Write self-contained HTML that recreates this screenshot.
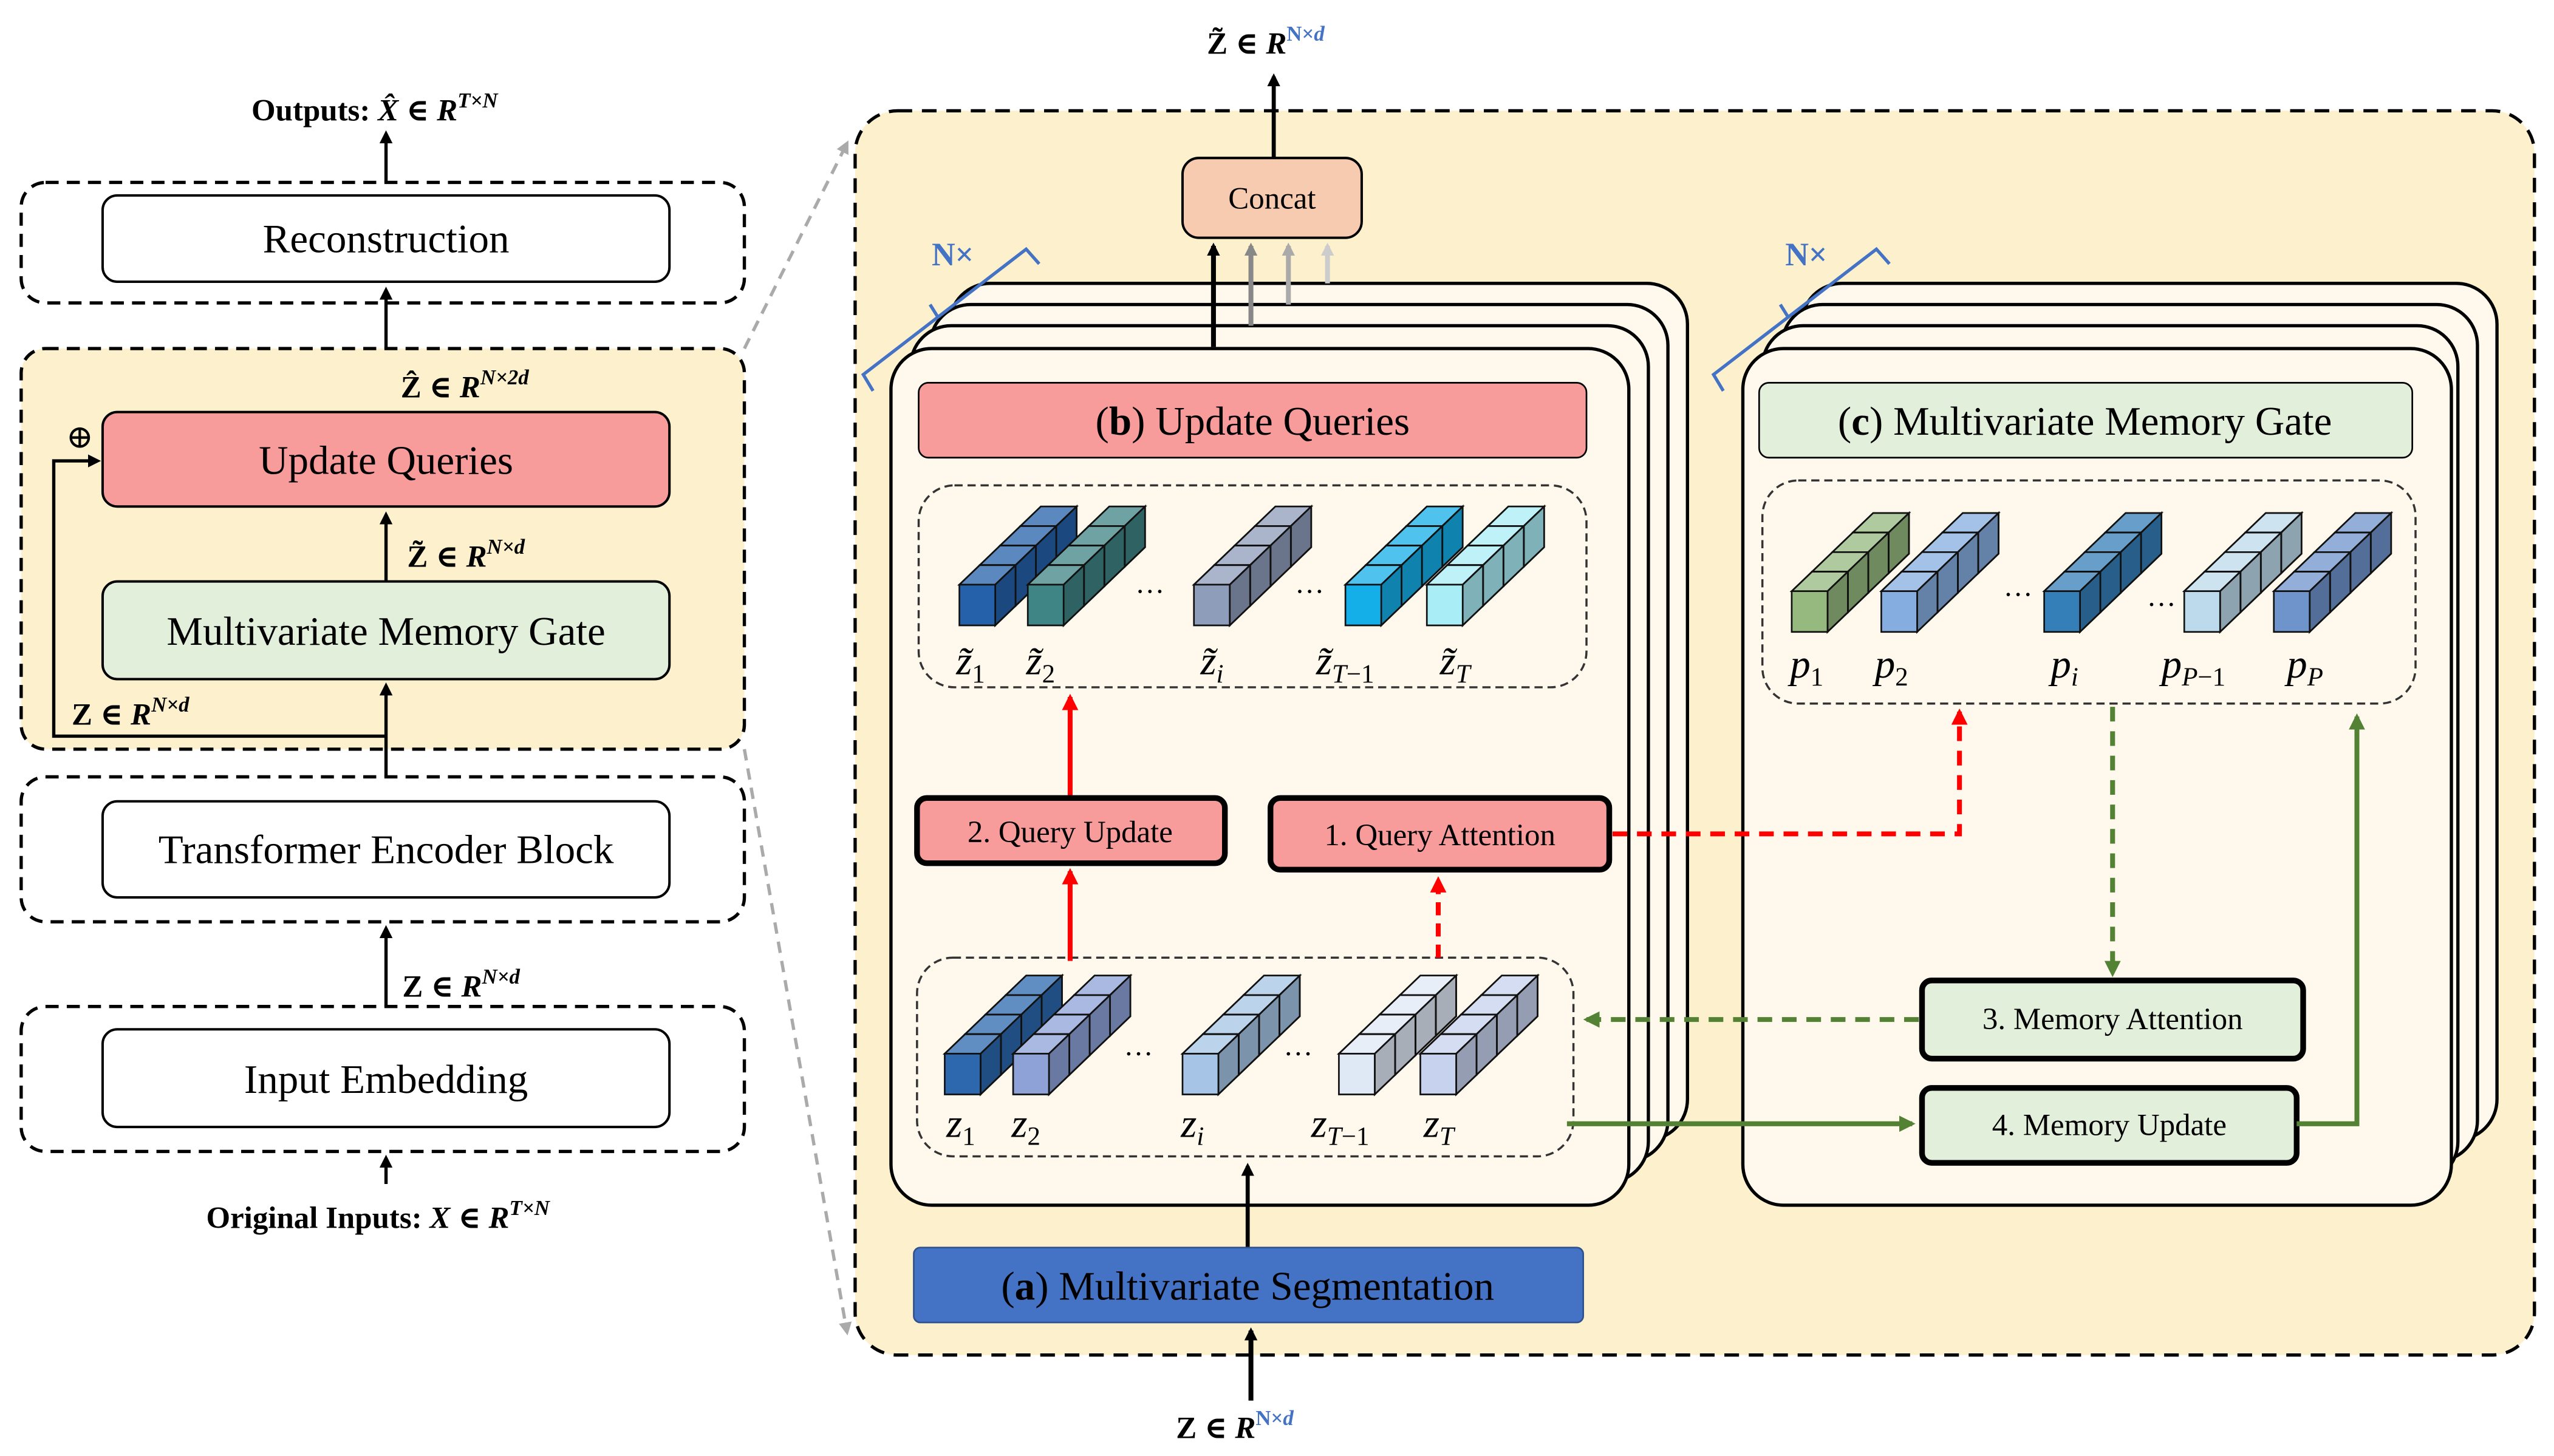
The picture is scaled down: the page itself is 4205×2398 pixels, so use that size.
<!DOCTYPE html>
<html><head><meta charset="utf-8"><style>
html,body{margin:0;padding:0;background:#fff;}
svg{display:block;}
text{font-family:"Liberation Serif","DejaVu Serif",serif;}
</style></head><body>
<svg id="s" xmlns="http://www.w3.org/2000/svg" width="4205" height="2398" viewBox="0 0 1568 894" preserveAspectRatio="none">
<defs>
<marker id="ak" markerWidth="8" markerHeight="8" refX="6" refY="4" orient="auto" markerUnits="userSpaceOnUse"><path d="M0,0 L8,4 L0,8 z" fill="#000"/></marker>
<marker id="ar" markerWidth="10" markerHeight="10" refX="8" refY="5" orient="auto" markerUnits="userSpaceOnUse"><path d="M0,0 L10,5 L0,10 z" fill="#f00"/></marker>
<marker id="ag" markerWidth="10" markerHeight="10" refX="8" refY="5" orient="auto" markerUnits="userSpaceOnUse"><path d="M0,0 L10,5 L0,10 z" fill="#548235"/></marker>
<marker id="ag1" markerWidth="8" markerHeight="8" refX="6" refY="4" orient="auto" markerUnits="userSpaceOnUse"><path d="M0,0 L8,4 L0,8 z" fill="#888"/></marker>
<marker id="ag2" markerWidth="8" markerHeight="8" refX="6" refY="4" orient="auto" markerUnits="userSpaceOnUse"><path d="M0,0 L8,4 L0,8 z" fill="#aaa"/></marker>
<marker id="ag3" markerWidth="8" markerHeight="8" refX="6" refY="4" orient="auto" markerUnits="userSpaceOnUse"><path d="M0,0 L8,4 L0,8 z" fill="#ccc"/></marker>
</defs>

<!-- LEFT COLUMN -->
<text x="230" y="74" font-size="19" font-weight="bold" text-anchor="middle">Outputs: <tspan font-style="italic">X̂</tspan> ∈ <tspan font-style="italic">R</tspan><tspan font-size="13" dy="-8" font-style="italic">T×N</tspan></text>
<line x1="237" y1="118" x2="237" y2="82" stroke="#000" stroke-width="2" marker-end="url(#ak)"/>
<rect x="13" y="112" width="444" height="74" rx="15" fill="#fff" stroke="#000" stroke-width="2" stroke-dasharray="8,5"/>
<rect x="63" y="120" width="348" height="53" rx="9" fill="#fff" stroke="#000" stroke-width="1.5"/>
<text x="237" y="155" font-size="25" text-anchor="middle">Reconstruction</text>
<line x1="237" y1="214" x2="237" y2="178" stroke="#000" stroke-width="2" marker-end="url(#ak)"/>

<rect x="13" y="214" width="444" height="246" rx="15" fill="#fdf0cc" stroke="#000" stroke-width="2" stroke-dasharray="8,5"/>
<text x="246" y="244" font-size="19" font-weight="bold">Ẑ ∈ <tspan font-style="italic">R</tspan><tspan font-size="13" dy="-8" font-style="italic">N×2d</tspan></text>
<rect x="63" y="253" width="348" height="58" rx="9" fill="#f79b9b" stroke="#000" stroke-width="1.5"/>
<text x="237" y="291" font-size="25" text-anchor="middle">Update Queries</text>
<text x="49" y="275" font-size="20" text-anchor="middle">⊕</text>
<line x1="237" y1="357" x2="237" y2="316" stroke="#000" stroke-width="2" marker-end="url(#ak)"/>
<text x="250" y="348" font-size="19" font-weight="bold">Z̃ ∈ <tspan font-style="italic">R</tspan><tspan font-size="13" dy="-8" font-style="italic">N×d</tspan></text>
<rect x="63" y="357" width="348" height="60" rx="9" fill="#e2efda" stroke="#000" stroke-width="1.5"/>
<text x="237" y="396" font-size="25" text-anchor="middle">Multivariate Memory Gate</text>
<line x1="237" y1="490" x2="237" y2="421" stroke="#000" stroke-width="2" marker-end="url(#ak)"/>
<polyline points="237,452 33,452 33,283 60,283" fill="none" stroke="#000" stroke-width="2" marker-end="url(#ak)"/>
<text x="44" y="445" font-size="19" font-weight="bold">Z ∈ <tspan font-style="italic">R</tspan><tspan font-size="13" dy="-8" font-style="italic">N×d</tspan></text>

<rect x="13" y="477" width="444" height="89" rx="15" fill="#fff" stroke="#000" stroke-width="2" stroke-dasharray="8,5"/>
<rect x="63" y="492" width="348" height="59" rx="9" fill="#fff" stroke="#000" stroke-width="1.5"/>
<text x="237" y="530" font-size="25" text-anchor="middle">Transformer Encoder Block</text>
<line x1="237" y1="632" x2="237" y2="570" stroke="#000" stroke-width="2" marker-end="url(#ak)"/>
<text x="247" y="612" font-size="19" font-weight="bold">Z ∈ <tspan font-style="italic">R</tspan><tspan font-size="13" dy="-8" font-style="italic">N×d</tspan></text>
<rect x="13" y="618" width="444" height="89" rx="15" fill="#fff" stroke="#000" stroke-width="2" stroke-dasharray="8,5"/>
<rect x="63" y="632" width="348" height="60" rx="9" fill="#fff" stroke="#000" stroke-width="1.5"/>
<text x="237" y="671" font-size="25" text-anchor="middle">Input Embedding</text>
<line x1="237" y1="727" x2="237" y2="711" stroke="#000" stroke-width="2" marker-end="url(#ak)"/>
<text x="232" y="754" font-size="19" font-weight="bold" text-anchor="middle">Original Inputs: <tspan font-style="italic">X</tspan> ∈ <tspan font-style="italic">R</tspan><tspan font-size="13" dy="-8" font-style="italic">T×N</tspan></text>

<line x1="457" y1="214" x2="520" y2="88" stroke="#aaa" stroke-width="2" stroke-dasharray="7,5" marker-end="url(#ag2)"/>
<line x1="457" y1="460" x2="520" y2="818" stroke="#aaa" stroke-width="2" stroke-dasharray="7,5" marker-end="url(#ag2)"/>

<!-- RIGHT BIG -->
<rect x="525" y="68" width="1031" height="764" rx="26" fill="#fdf0cc" stroke="#000" stroke-width="2" stroke-dasharray="9,6"/>
<line x1="782" y1="97" x2="782" y2="47" stroke="#000" stroke-width="2.5" marker-end="url(#ak)"/>
<text x="741" y="33" font-size="19" font-weight="bold">Z̃ ∈ <tspan font-style="italic">R</tspan><tspan font-size="13" dy="-8" fill="#4472c4">N×<tspan font-style="italic">d</tspan></tspan></text>

<!-- panels b -->
<rect x="583" y="174" width="453" height="526" rx="25" fill="#fff8ec" stroke="#000" stroke-width="2"/>
<rect x="571" y="187" width="453" height="526" rx="25" fill="#fff8ec" stroke="#000" stroke-width="2"/>
<rect x="559" y="200" width="453" height="526" rx="25" fill="#fff8ec" stroke="#000" stroke-width="2"/>
<rect x="547" y="214" width="453" height="526" rx="25" fill="#fff8ec" stroke="#000" stroke-width="2"/>
<!-- panels c -->
<rect x="1106" y="174" width="427" height="526" rx="25" fill="#fff8ec" stroke="#000" stroke-width="2"/>
<rect x="1094" y="187" width="427" height="526" rx="25" fill="#fff8ec" stroke="#000" stroke-width="2"/>
<rect x="1082" y="200" width="427" height="526" rx="25" fill="#fff8ec" stroke="#000" stroke-width="2"/>
<rect x="1070" y="214" width="435" height="526" rx="25" fill="#fff8ec" stroke="#000" stroke-width="2"/>

<!-- Concat -->
<rect x="726" y="97" width="110" height="49" rx="10" fill="#f7cbb0" stroke="#000" stroke-width="1.5"/>
<text x="781" y="128" font-size="19" text-anchor="middle">Concat</text>
<line x1="745" y1="213" x2="745" y2="151" stroke="#000" stroke-width="3" marker-end="url(#ak)"/>
<line x1="768" y1="200" x2="768" y2="151" stroke="#888" stroke-width="3" marker-end="url(#ag1)"/>
<line x1="791" y1="187" x2="791" y2="151" stroke="#aaa" stroke-width="3" marker-end="url(#ag2)"/>
<line x1="815" y1="174" x2="815" y2="151" stroke="#ccc" stroke-width="3" marker-end="url(#ag3)"/>

<!-- N× brackets -->
<g stroke="#4472c4" stroke-width="2" fill="none">
<polyline points="536,240 530,230 630,153 638,162"/>
<line x1="576" y1="195" x2="571" y2="187"/>
<polyline points="1058,240 1052,230 1152,153 1160,162"/>
<line x1="1098" y1="195" x2="1093" y2="187"/>
</g>
<text x="572" y="163" font-size="20" font-weight="bold" fill="#4472c4">N×</text>
<text x="1096" y="163" font-size="20" font-weight="bold" fill="#4472c4">N×</text>

<rect x="564" y="235" width="410" height="46" rx="6" fill="#f79b9b" stroke="#000" stroke-width="1"/>
<text x="769" y="267" font-size="25" text-anchor="middle">(<tspan font-weight="bold">b</tspan>) Update Queries</text>
<rect x="1080" y="235" width="401" height="46" rx="6" fill="#e2efda" stroke="#000" stroke-width="1"/>
<text x="1280" y="267" font-size="25" text-anchor="middle">(<tspan font-weight="bold">c</tspan>) Multivariate Memory Gate</text>

<rect x="564" y="298" width="410" height="124" rx="22" fill="none" stroke="#333" stroke-width="1.3" stroke-dasharray="5,3"/>
<rect x="563" y="588" width="403" height="122" rx="22" fill="none" stroke="#333" stroke-width="1.3" stroke-dasharray="5,3"/>
<rect x="1082" y="295" width="401" height="137" rx="22" fill="none" stroke="#333" stroke-width="1.3" stroke-dasharray="5,3"/>

<g id="cubes"></g>

<!-- labels cubes -->
<g font-size="25" font-style="italic">
<text x="587" y="414">z̃<tspan font-size="16" dy="5" font-style="normal">1</tspan></text>
<text x="630" y="414">z̃<tspan font-size="16" dy="5" font-style="normal">2</tspan></text>
<text x="737" y="414">z̃<tspan font-size="16" dy="5">i</tspan></text>
<text x="808" y="414">z̃<tspan font-size="16" dy="5">T</tspan><tspan font-size="16" font-style="normal">−1</tspan></text>
<text x="884" y="414">z̃<tspan font-size="16" dy="5">T</tspan></text>
<text x="581" y="698">z<tspan font-size="16" dy="5" font-style="normal">1</tspan></text>
<text x="621" y="698">z<tspan font-size="16" dy="5" font-style="normal">2</tspan></text>
<text x="725" y="698">z<tspan font-size="16" dy="5">i</tspan></text>
<text x="805" y="698">z<tspan font-size="16" dy="5">T</tspan><tspan font-size="16" font-style="normal">−1</tspan></text>
<text x="874" y="698">z<tspan font-size="16" dy="5">T</tspan></text>
<text x="1099" y="416">p<tspan font-size="16" dy="5" font-style="normal">1</tspan></text>
<text x="1151" y="416">p<tspan font-size="16" dy="5" font-style="normal">2</tspan></text>
<text x="1259" y="416">p<tspan font-size="16" dy="5">i</tspan></text>
<text x="1327" y="416">p<tspan font-size="16" dy="5">P</tspan><tspan font-size="16" font-style="normal">−1</tspan></text>
<text x="1404" y="416">p<tspan font-size="16" dy="5">P</tspan></text>
</g>
<g font-size="18">
<text x="697" y="364">…</text><text x="795" y="364">…</text>
<text x="690" y="648">…</text><text x="788" y="648">…</text>
<text x="1230" y="366">…</text><text x="1318" y="372">…</text>
</g>

<!-- b internals -->
<line x1="657" y1="490" x2="657" y2="428" stroke="#f00" stroke-width="3" marker-end="url(#ar)"/>
<line x1="657" y1="590" x2="657" y2="535" stroke="#f00" stroke-width="3" marker-end="url(#ar)"/>
<line x1="883" y1="588" x2="883" y2="540" stroke="#f00" stroke-width="3" stroke-dasharray="8,5" marker-end="url(#ar)"/>
<rect x="563" y="490" width="189" height="40" rx="6" fill="#f79b9b" stroke="#000" stroke-width="3.5"/>
<text x="657" y="517" font-size="19" text-anchor="middle">2. Query Update</text>
<rect x="780" y="490" width="208" height="44" rx="6" fill="#f79b9b" stroke="#000" stroke-width="3.5"/>
<text x="884" y="519" font-size="19" text-anchor="middle">1. Query Attention</text>
<polyline points="990,512 1203,512 1203,437" fill="none" stroke="#f00" stroke-width="3" stroke-dasharray="9,6" marker-end="url(#ar)"/>

<!-- c internals -->
<line x1="1297" y1="434" x2="1297" y2="598" stroke="#548235" stroke-width="3" stroke-dasharray="9,6" marker-end="url(#ag)"/>
<rect x="1180" y="602" width="234" height="48" rx="6" fill="#e2efda" stroke="#000" stroke-width="3.5"/>
<text x="1297" y="632" font-size="19" text-anchor="middle">3. Memory Attention</text>
<line x1="1178" y1="626" x2="974" y2="626" stroke="#548235" stroke-width="3" stroke-dasharray="9,6" marker-end="url(#ag)"/>
<rect x="1180" y="668" width="230" height="46" rx="6" fill="#e2efda" stroke="#000" stroke-width="3.5"/>
<text x="1295" y="697" font-size="19" text-anchor="middle">4. Memory Update</text>
<line x1="962" y1="690" x2="1174" y2="690" stroke="#548235" stroke-width="3" marker-end="url(#ag)"/>
<polyline points="1410,690 1447,690 1447,440" fill="none" stroke="#548235" stroke-width="3" marker-end="url(#ag)"/>

<!-- a -->
<line x1="766" y1="766" x2="766" y2="716" stroke="#000" stroke-width="2.5" marker-end="url(#ak)"/>
<rect x="561" y="766" width="411" height="46" rx="4" fill="#4472c4" stroke="#2f528f" stroke-width="1"/>
<text x="766" y="798" font-size="25" text-anchor="middle">(<tspan font-weight="bold">a</tspan>) Multivariate Segmentation</text>
<line x1="768" y1="860" x2="768" y2="817" stroke="#000" stroke-width="3" marker-end="url(#ak)"/>
<text x="722" y="883" font-size="19" font-weight="bold">Z ∈ <tspan font-style="italic">R</tspan><tspan font-size="13" dy="-8" fill="#4472c4">N×<tspan font-style="italic">d</tspan></tspan></text>
</svg>
<script>
(function(){
var g=document.getElementById('cubes');var NS='http://www.w3.org/2000/svg';
function poly(pts,fill,op){var p=document.createElementNS(NS,'polygon');p.setAttribute('points',pts.map(function(a){return a[0].toFixed(1)+','+a[1].toFixed(1)}).join(' '));p.setAttribute('fill',fill);p.setAttribute('stroke','#111');p.setAttribute('stroke-width','1');if(op!=null)p.setAttribute('fill-opacity',op);g.appendChild(p);}
function stack(x,yb,c){var w=22,h=25,dx=12.5,dy=-12;
for(var k=3;k>=0;k--){var X=x+k*dx,Y=yb-h+k*dy;
poly([[X,Y],[X+w,Y],[X+w+dx,Y+dy],[X+dx,Y+dy]],c);poly([[X,Y],[X+w,Y],[X+w+dx,Y+dy],[X+dx,Y+dy]],'#fff',0.25);
poly([[X+w,Y],[X+w+dx,Y+dy],[X+w+dx,Y+h+dy],[X+w,Y+h]],c);poly([[X+w,Y],[X+w+dx,Y+dy],[X+w+dx,Y+h+dy],[X+w,Y+h]],'#000',0.25);
poly([[X,Y],[X+w,Y],[X+w,Y+h],[X,Y+h]],c);}}
[[589,'#2560aa'],[631,'#3f8585'],[733,'#8e9dba'],[826,'#14aee9'],[876,'#a9eef6']].forEach(function(a){stack(a[0],384,a[1]);});
[[580,'#2d68ae'],[622,'#8ea2d8'],[726,'#a6c4e6'],[822,'#dfe9f6'],[872,'#c7d2ee']].forEach(function(a){stack(a[0],672,a[1]);});
[[1100,'#95b97e'],[1155,'#86ade0'],[1255,'#357fb8'],[1341,'#bcdaeb'],[1396,'#6f94cc']].forEach(function(a){stack(a[0],388,a[1]);});
})();
</script>
</body></html>
